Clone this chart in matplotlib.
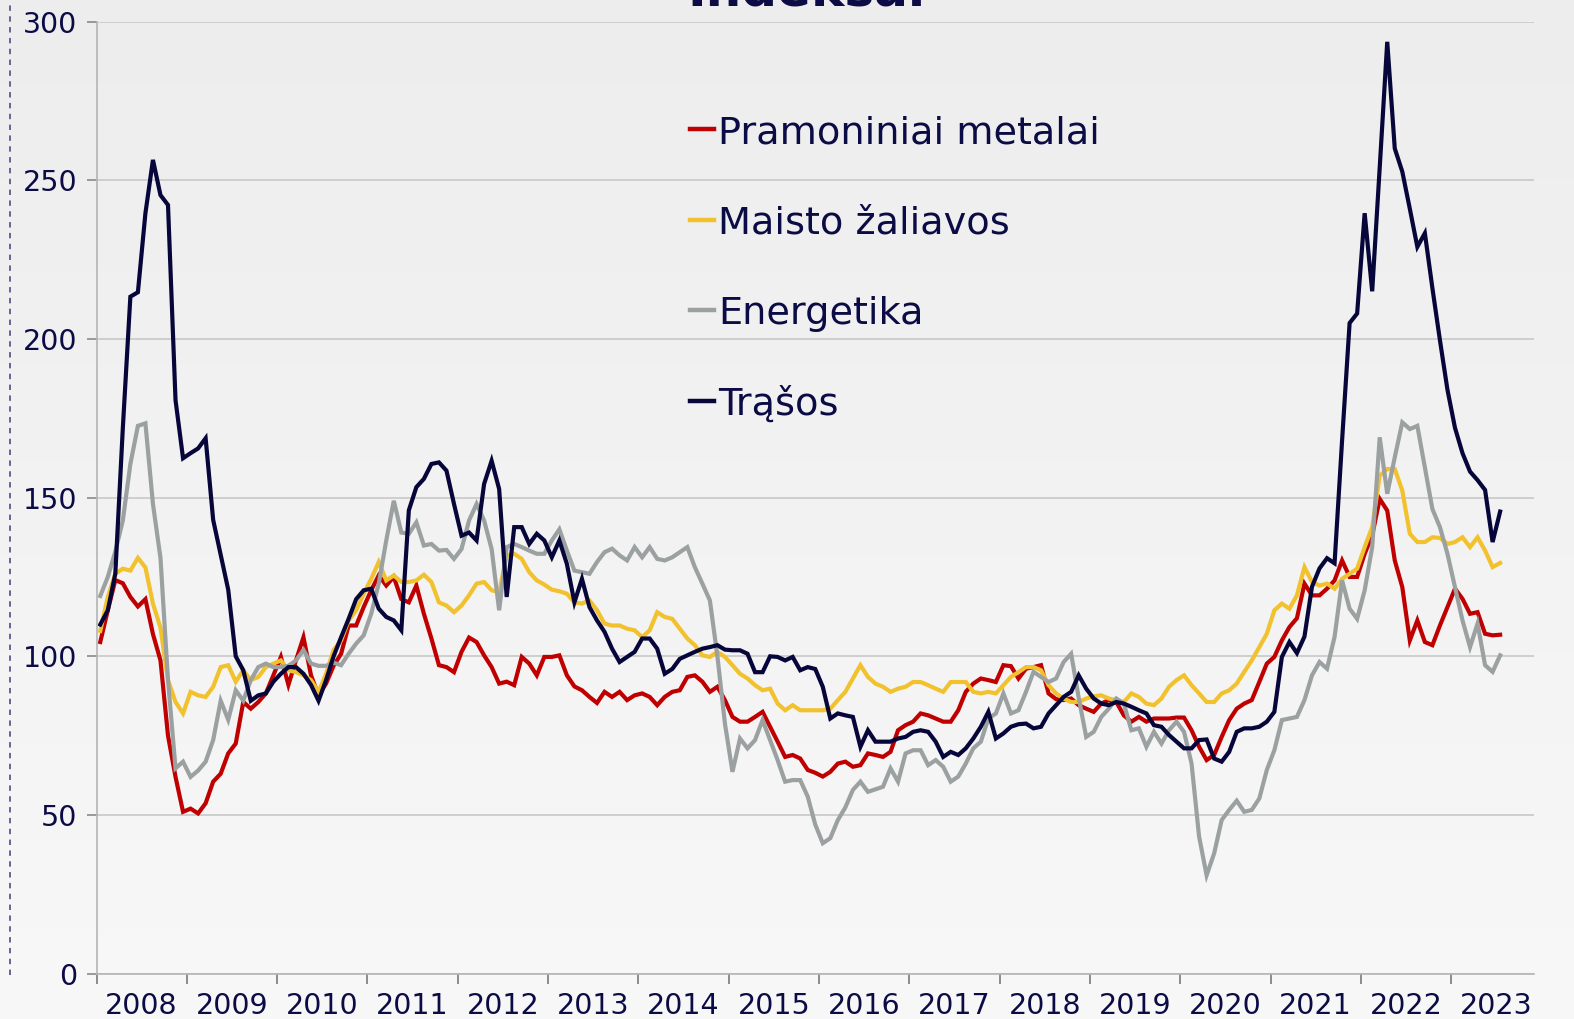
import numpy as np
import matplotlib
matplotlib.use("Agg")
import matplotlib.pyplot as plt
from matplotlib.lines import Line2D

# Mėnesiniai indeksai, 2008 m. sausis - 2023 m. liepa
metai = [str(m) for m in range(2008, 2024)]

metalai = [104.5, 114.5, 124, 123, 118.7, 115.7, 118, 107, 98.7, 75, 62, 51,
           52, 50.5, 53.7, 60.5, 63, 69.4, 72.5, 85.6, 83.5, 85.6, 88.3, 94,
           99.8, 91, 98.7, 106, 94, 87.7, 91.4, 97, 100.8, 109.7, 109.7, 115.5,
           120.8, 125.5, 122.3, 125, 118, 117, 122.3, 113.4, 105.6, 97.2, 96.6, 95,
           101.4, 105.9, 104.5, 100.3, 96.6, 91.4, 92, 90.9, 99.8, 97.7, 94, 99.8,
           99.8, 100.3, 94, 90.5, 89.3, 87.2, 85.3, 88.8, 87.2, 88.8, 86.2, 87.7,
           88.3, 87.2, 84.6, 87.2, 88.8, 89.3, 93.5, 94, 92, 88.8, 90.4, 86.2,
           80.9, 79.4, 79.4, 80.9, 82.5, 77.8, 73.1, 68.3, 68.9, 67.8, 64.2, 63.3,
           62.1, 63.6, 66.2, 66.8, 65.2, 65.7, 69.4, 68.9, 68.3, 69.9, 76.7, 78.3,
           79.4, 82, 81.4, 80.4, 79.4, 79.4, 83, 88.8, 91.4, 93, 92.5, 91.9,
           97.2, 96.9, 93, 96.1, 96.6, 97.2, 88.3, 86.5, 86.2, 86.7, 84.6, 83.5,
           82.5, 85.1, 86.2, 85.6, 81.4, 79.4, 80.9, 79.4, 80.4, 80.4, 80.4, 80.7,
           80.7, 76.7, 71.5, 67.3, 68.9, 74.6, 79.9, 83.5, 85.1, 86.2, 91.9, 97.7,
           99.8, 105, 109.2, 112, 122.9, 119.2, 119.2, 121.3, 123.9, 130.2, 125, 125,
           132.3, 138.1, 149.6, 145.9, 130.2, 121.8, 105, 111.3, 104.5, 103.5, 109.7, 115.5,
           121.3, 118.1, 113.4, 113.9, 107.1, 106.6, 106.8]

maistas = [108, 118.7, 126, 127.6, 127, 131, 128, 116.6, 109, 92.5, 85.6, 82,
           88.8, 87.7, 87.2, 90.4, 96.6, 97.2, 92, 95.6, 92.5, 93.5, 96.6, 97.7,
           98.7, 95.6, 95, 94, 92.5, 88.8, 94.5, 102, 105, 111.3, 114.5, 119.7,
           124.4, 129.7, 123.9, 125.5, 123.4, 123.4, 123.9, 125.7, 123.4, 117, 116, 113.9,
           116, 119.2, 122.9, 123.4, 120.8, 120.2, 131.8, 132.3, 130.7, 126.5, 123.9, 122.6,
           121, 120.5, 119.7, 117, 116.6, 117.6, 114.5, 110.3, 109.7, 109.7, 108.7, 108.2,
           106, 108.2, 113.9, 112.4, 111.8, 108.7, 105.6, 103.5, 100.3, 99.8, 101.4, 99.8,
           97.2, 94.5, 93, 90.9, 89.3, 89.8, 85.1, 83, 84.6, 83, 83, 83,
           83, 83.5, 86.2, 88.8, 93, 97.2, 93.5, 91.4, 90.4, 88.8, 89.8, 90.4,
           91.9, 91.9, 90.9, 89.8, 88.8, 91.9, 91.9, 91.9, 88.8, 88.3, 88.8, 88.3,
           90.9, 93.5, 95, 96.6, 96.6, 95.6, 90.9, 88.3, 86.7, 85.6, 85.6, 86.7,
           87.4, 87.7, 86.7, 86.2, 85.6, 88.3, 87.2, 85.1, 84.6, 86.7, 90.4, 92.5,
           94, 90.9, 88.3, 85.6, 85.6, 88.3, 89.3, 91.4, 95.1, 98.7, 102.9, 107.1,
           114.5, 116.6, 115, 119.2, 128.1, 123.4, 122.3, 122.9, 121.3, 124.4, 126, 127.6,
           134.4, 140.7, 156.9, 159, 159, 152.2, 138.6, 136, 136, 137.5, 137.3, 135.4,
           136, 137.5, 134.4, 137.5, 133.3, 128.1, 129.4]

energetika = [119, 125, 133, 142.8, 160.6, 172.6, 173.4, 148, 131, 92.5, 64.7, 66.8,
              62, 64, 66.8, 73.6, 86, 80, 89.3, 86, 92.5, 96.6, 97.7, 96.6,
              96.6, 97, 98.7, 102, 97.7, 97, 97, 98, 97.2, 100.8, 104, 106.6,
              113.4, 122.9, 136.5, 149, 139, 138.6, 142.2, 134.9, 135.4, 133.3, 133.5, 130.7,
              133.8, 142.8, 148, 142.8, 133.8, 114.5, 134.4, 135.4, 134.4, 133.3, 132.3, 132.3,
              136.5, 140, 133.3, 127, 126.5, 126, 129.7, 132.8, 133.9, 131.8, 130.2, 134.4,
              131.2, 134.4, 130.7, 130.2, 131.2, 132.8, 134.4, 128.1, 122.9, 117.6, 100, 78.8,
              63.6, 74.1, 71, 73.6, 79.9, 73.6, 67.3, 60.5, 61, 61, 55.8, 47,
              41.1, 42.7, 48.4, 52.4, 57.9, 60.5, 57.3, 58.1, 58.9, 64.7, 60.5, 69.4,
              70.4, 70.4, 65.7, 67.3, 65.2, 60.5, 62.1, 66.2, 71, 73.1, 80.4, 82,
              88.3, 82, 83, 88.8, 95.1, 93.5, 91.9, 93, 98.2, 100.8, 87, 74.6,
              76.2, 80.9, 83.5, 86.7, 85.1, 76.7, 77.3, 71.5, 76.2, 72.5, 76.7, 79.4,
              76.2, 66.2, 43.2, 31, 37.9, 48.4, 51.6, 54.5, 51, 51.6, 55.2, 64.2,
              70.4, 79.9, 80.4, 80.9, 86.2, 94, 98.2, 96.1, 106.1, 123.9, 115, 111.8,
              120.8, 134.4, 169, 151.2, 162.7, 173.7, 171.6, 172.6, 159.5, 146.4, 140.7, 132.3,
              121.8, 111.3, 102.9, 110.3, 97.2, 95.1, 100.3]

trasos = [110, 114.5, 126, 172, 213.3, 214.7, 239.6, 256.4, 245.3, 242.2, 180.7, 162.4,
          164, 165.5, 168.7, 143, 132, 121, 100, 95.6, 86, 87.7, 88.3, 92,
          94.5, 96.6, 96.6, 94.5, 91, 86, 92.5, 100, 106, 111.8, 118, 120.8,
          121.3, 115, 112.4, 111.3, 108.2, 146, 153.3, 155.9, 160.6, 161.1, 158.5, 148,
          138, 139, 136.5, 154.3, 161.6, 152.7, 118.7, 140.7, 140.7, 135.4, 138.6, 136.5,
          131.2, 136.5, 129.1, 117, 124.4, 115.5, 111.3, 107.7, 102.4, 98.2, 99.8, 101.4,
          105.6, 105.6, 102.4, 94.5, 96, 99.2, 100.3, 101.4, 102.4, 102.9, 103.5, 102.1,
          101.9, 101.9, 100.8, 95, 95, 100, 99.8, 98.7, 99.8, 95.6, 96.6, 96,
          90.4, 80.4, 82, 81.4, 80.9, 71.5, 76.7, 73.1, 73.1, 73.1, 74.1, 74.6,
          76.2, 76.7, 76.2, 73.1, 68.3, 69.9, 68.9, 71, 74.1, 77.8, 82.5, 74.1,
          75.7, 77.8, 78.6, 78.8, 77.3, 77.8, 82, 84.6, 87.2, 88.8, 94, 89.8,
          86.7, 85.1, 84.6, 85.6, 85.1, 84.1, 83, 82, 78.3, 77.8, 75.2, 73.1,
          71, 71, 73.6, 73.8, 67.8, 66.8, 69.9, 76.2, 77.3, 77.3, 77.8, 79.4,
          82.5, 99.8, 104.5, 101, 106.2, 121.9, 127.7, 130.9, 129.3, 168, 205, 208,
          239.6, 215, 254, 293.6, 260, 252.7, 241, 229, 233.3, 216, 199.6, 184,
          172, 164, 158.2, 155.5, 152.4, 136, 145.6]

tamsi = "#0b0b45"
serijos = [("Pramoniniai metalai", metalai, "#c00000"),
           ("Maisto žaliavos", maistas, "#f2c12e"),
           ("Energetika", energetika, "#9ba0a0"),
           ("Trąšos", trasos, "#06063a")]

W, H = 1574, 1019
fig = plt.figure(figsize=(W / 100, H / 100), dpi=100)

# šviesiai pilkas fonas
fonas = fig.add_axes([0, 0, 1, 1])
grad = np.linspace(0.93, 0.972, 256).reshape(-1, 1)
fonas.imshow(np.dstack([grad] * 3), aspect="auto", extent=[0, 1, 0, 1])
fonas.axis("off")

ax = fig.add_axes([96.5 / W, 1 - 973.7 / H, (1534 - 96.5) / W, (973.7 - 21.5) / H])
ax.patch.set_alpha(0)

men = np.arange(len(metalai)) + 0.5
for pav, reiksmes, spalva in serijos:
    ax.plot(men, reiksmes, color=spalva, lw=3.0, solid_joinstyle="miter")

ax.set_xlim(0, 191)
ax.set_ylim(0, 300)
ax.set_yticks(range(0, 301, 50))
ax.yaxis.grid(True, color="#c8c8c8", lw=1.2)
ax.set_axisbelow(True)

ax.set_xticks(np.arange(0, 181, 12))
ax.set_xticklabels([])
ax.set_xticks(np.arange(6, 187, 12), minor=True)
ax.set_xticklabels(metai, minor=True)
ax.tick_params(axis="x", which="major", length=7, color="#7a7a7a", width=1.2)
ax.tick_params(axis="x", which="minor", length=0, pad=13, labelsize=20.5, labelcolor=tamsi)
ax.tick_params(axis="y", length=7, color="#8a8a8a", width=1.2, pad=7,
               labelsize=20.5, labelcolor=tamsi)

for s in ["top", "right"]:
    ax.spines[s].set_visible(False)
for s in ["left", "bottom"]:
    ax.spines[s].set_color("#b4b4b4")
    ax.spines[s].set_linewidth(1.2)

# legenda
eil_y = [129, 219.5, 310, 401]
for (pav, reiksmes, spalva), yy in zip(serijos, eil_y):
    fig.add_artist(Line2D([690 / W, 714 / W], [1 - yy / H] * 2, color=spalva, lw=3.2))
    fig.text(718 / W, 1 - (yy + 14) / H, pav, fontsize=27.5, color=tamsi, va="baseline")

# nukirpta antraštė (originale matosi tik apačia)
fig.text(806 / W, 1 - 6 / H, "Indeksai", fontsize=36, fontweight="bold",
         color=tamsi, ha="center", va="baseline")

# punktyrinė linija kairėje
fig.add_artist(Line2D([10 / W] * 2, [1 - 975 / H, 1], ls=(0, (3, 3)),
                      color="#5a5a8a", lw=1.3))

fig.savefig("out.png", dpi=100)
